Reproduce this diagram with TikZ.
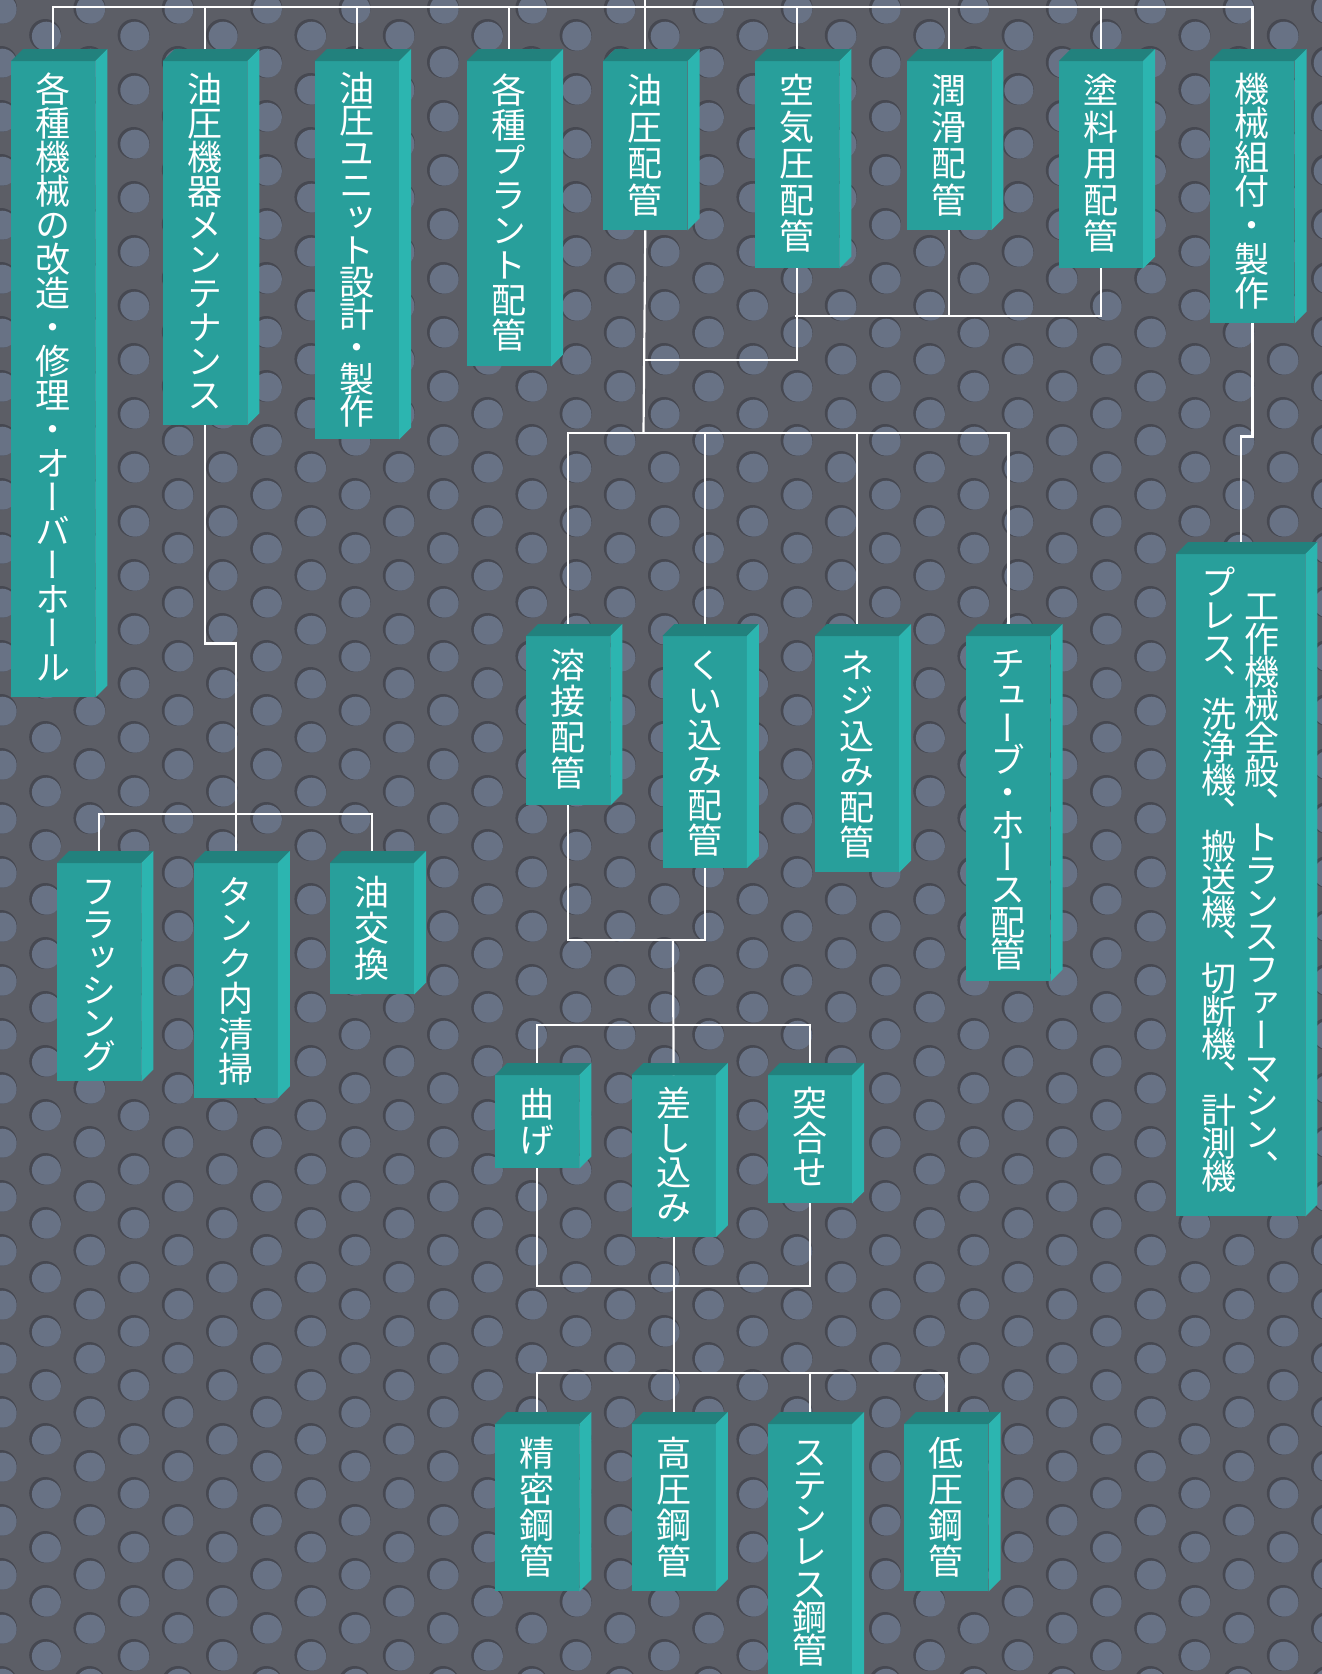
\documentclass[tikz,border=0pt]{standalone}
\usepackage{fontspec}
\newfontfamily\jpfont[RawFeature=+vert]{Noto Sans CJK JP}
\usepackage{tikz}
\usetikzlibrary{calc}

\definecolor{plate}{HTML}{5C5E66}
\definecolor{dot}{HTML}{687285}
\definecolor{dimple}{HTML}{464851}
\definecolor{front}{HTML}{289F9B}
\definecolor{side}{HTML}{2CB5B0}
\definecolor{topface}{HTML}{22817D}

% vertical text: #1 extra top gap, #2 pitch, #3 characters
\ExplSyntaxOn
\NewDocumentCommand \tate { O{0pt} m m }
 {
  \vtop
   {
    \offinterlineskip
    \kern \dim_eval:n { 11pt + #1 }
    \tl_map_inline:nn {#3}
     {
      \hbox_to_wd:nn { 1em }
       {
        \hss
        \vrule height \dim_eval:n { #2pt / 2 + 0.38em } depth \dim_eval:n { #2pt / 2 - 0.38em } width 0pt
        \raisebox{0pt}[0pt][0pt]{##1}
        \hss
       }
     }
   }
 }
\ExplSyntaxOff

\begin{document}
\begin{tikzpicture}[
  x=1pt, y=-1pt,
  panel/.style={fill=front,text=white,inner sep=0pt,minimum width=84pt,
    text height=0pt,text depth=#1,anchor=north west,
    font=\jpfont\fontsize{35}{35}\selectfont},
  wire/.style={draw=white,line width=2.2pt},
  topside/.style={fill=topface},
  rightside/.style={fill=side}
]
\useasboundingbox (0,0) rectangle (1322,1674);
\fill[plate] (0,0) rectangle (1322,1674);

% perforated plate
\foreach \i in {0,...,30}{
  \foreach \j in {0,...,31}{
    \pgfmathsetmacro{\cx}{1+44.2*\i}
    \pgfmathsetmacro{\cy}{8+54*\j+27*mod(\i,2)}
    \fill[dimple] (\cx,\cy) circle (16pt);
    \fill[dot] (\cx+1.2,\cy+1.2) circle (14.5pt);
  }
}

% top row
\node[panel=636] (b1) at (11,61) {\tate{34}{各種機械の改造・修理・オーバーホール}};
\node[panel=364] (b2) at ([xshift=67.5pt]b1.north east) {\tate{34}{油圧機器メンテナンス}};
\node[panel=378] (b3) at ([xshift=67.5pt]b2.north east) {\tate{32.3}{油圧ユニット設計・製作}};
\node[panel=305] (b4) at ([xshift=67.5pt]b3.north east) {\tate{35}{各種プラント配管}};
\node[panel=169] (b5) at ([xshift=52pt]b4.north east) {\tate{36.5}{油圧配管}};
\node[panel=207] (b6) at ([xshift=67.5pt]b5.north east) {\tate{36.5}{空気圧配管}};
\node[panel=169] (b7) at ([xshift=67.5pt]b6.north east) {\tate{36.5}{潤滑配管}};
\node[panel=207] (b8) at ([xshift=67.5pt]b7.north east) {\tate{36.5}{塗料用配管}};
\node[panel=262] (b9) at ([xshift=67pt]b8.north east) {\tate{34}{機械組付・製作}};

% machines
\node[panel=662,minimum width=129pt] (tool) at (1176,554)
  {\tate{33}{プレス、洗浄機、搬送機、切断機、計測機}\hspace{8pt}\tate[24pt]{33}{工作機械全般、トランスファーマシン、}};

% maintenance
\node[panel=218] (flush) at (57,863) {\tate{33}{フラッシング}};
\node[panel=235] (tank) at ([xshift=52pt]flush.north east) {\tate{35.5}{タンク内清掃}};
\node[panel=131] (oilx) at ([xshift=52pt]tank.north east) {\tate{36}{油交換}};

% piping methods
\node[panel=169] (weld) at (526,636) {\tate{36}{溶接配管}};
\node[panel=232] (bite) at ([xshift=52pt]weld.north east) {\tate{35}{くい込み配管}};
\node[panel=236] (screw) at ([xshift=68pt]bite.north east) {\tate{35.5}{ネジ込み配管}};
\node[panel=345] (tube) at ([xshift=67pt]screw.north east) {\tate{32.3}{チューブ・ホース配管}};

\node[panel=93] (bend) at (495,1075) {\tate{36}{曲げ}};
\node[panel=162] (insert) at ([xshift=52pt]bend.north east) {\tate{34.5}{差し込み}};
\node[panel=128] (butt) at ([xshift=52pt]insert.north east) {\tate{34.5}{突合せ}};

\node[panel=167] (prec) at (495,1424) {\tate{36}{精密鋼管}};
\node[panel=167] (high) at ([xshift=52pt]prec.north east) {\tate{36}{高圧鋼管}};
\node[panel=300] (stain) at ([xshift=52pt]high.north east) {\tate{33}{ステンレス鋼管}};
\node[panel=167] (low) at ([xshift=52pt]stain.north east) {\tate{36}{低圧鋼管}};

% connectors
\coordinate (root) at (645,0);
\coordinate (top) at (645,7);
\coordinate (mbar) at (235,814);
\coordinate (lbar) at (795,316);
\coordinate (ajoin) at (643.5,360);
\coordinate (pbar) at (643.5,433);
\coordinate (wjoin) at (673,940);
\coordinate (jbar) at (673,1025);
\coordinate (kbar) at (673,1286);
\coordinate (sbar) at (673,1373);

\draw[wire] (root) -- (top);
\draw[wire] (b1.north) |- (top) -| (b9.north);
\foreach \n in {b2,b3,b4,b5,b6,b7,b8}
  \draw[wire] (\n.north) -- (\n.north |- top);

\draw[wire] (b2.south) -- ++(0,218) -| (tank.north);
\draw[wire] (flush.north) |- (mbar) -| (oilx.north);

\draw[wire] (b7.south) |- (lbar) -| (b8.south);
\draw[wire] (b6.south) |- (ajoin);
\draw[wire] (b5.south) -- (pbar);
\draw[wire] (weld.north) |- (pbar) -| (tube.north);
\draw[wire] (bite.north) -- (bite.north |- pbar);
\draw[wire] (screw.north) -- (screw.north |- pbar);

\draw[wire] (weld.south) |- (wjoin) -| (bite.south);
\draw[wire] (wjoin) -- (insert.north);
\draw[wire] (bend.north) |- (jbar) -| (butt.north);
\draw[wire] (bend.south) |- (kbar) -| (butt.south);
\draw[wire] (insert.south) -- (high.north);
\draw[wire] (prec.north) |- (sbar) -| (low.north);
\draw[wire] (stain.north) -- (stain.north |- sbar);

\draw[wire] (b9.south) -- ++(0,113) -| (tool.north);

% box depth
\foreach \n in {b1,b2,b3,b4,b5,b6,b7,b8,b9,tool,flush,tank,oilx,weld,bite,screw,tube,bend,insert,butt,prec,high,stain,low}{
  \fill[topside] (\n.north west) -- ++(12pt,12pt) -- ([shift={(12pt,12pt)}]\n.north east) -- (\n.north east) -- cycle;
  \fill[rightside] (\n.north east) -- ++(12pt,12pt) -- ([shift={(12pt,12pt)}]\n.south east) -- (\n.south east) -- cycle;
}
\end{tikzpicture}
\end{document}
